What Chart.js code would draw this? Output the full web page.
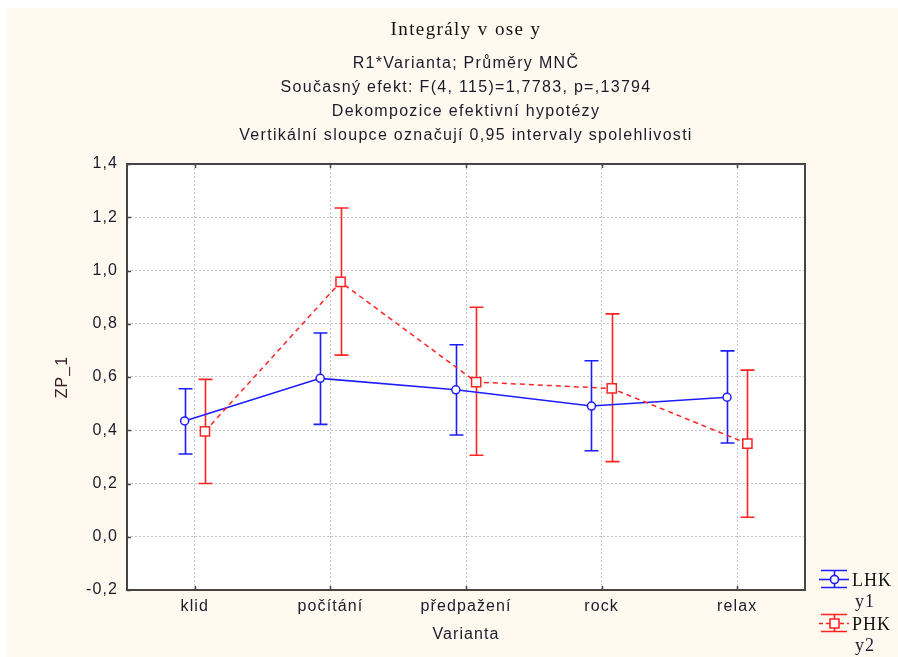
<!DOCTYPE html>
<html>
<head>
<meta charset="utf-8">
<script src="https://cdn.jsdelivr.net/npm/chart.js@4/dist/chart.umd.min.js"></script>
<style>
  html, body { margin: 0; padding: 0; background: #ffffff; }
  #wrap { width: 898px; height: 657px; position: relative; }
</style>
</head>
<body>
<div id="wrap"><canvas id="c" width="898" height="657"></canvas></div>
<script>
// Categories of the experiment (x axis)
const categories = ['klid', 'počítání', 'předpažení', 'rock', 'relax'];

// LHK (y1): least-squares means with 0.95 confidence limits
const lhkMean = [0.435, 0.595, 0.552, 0.491, 0.524];
const lhkLow  = [0.311, 0.422, 0.382, 0.323, 0.352];
const lhkHigh = [0.556, 0.765, 0.721, 0.661, 0.698];

// PHK (y2): least-squares means with 0.95 confidence limits
const phkMean = [0.396, 0.957, 0.581, 0.557, 0.350];
const phkLow  = [0.200, 0.682, 0.306, 0.282, 0.073];
const phkHigh = [0.591, 1.235, 0.862, 0.837, 0.626];

// Y axis tick values
const yTicks = [-0.2, 0.0, 0.2, 0.4, 0.6, 0.8, 1.0, 1.2, 1.4];

// Header lines
const titleText = 'Integrály v ose y';
const subtitleLines = [
  'R1*Varianta; Průměry MNČ',
  'Současný efekt: F(4, 115)=1,7783, p=,13794',
  'Dekompozice efektivní hypotézy',
  'Vertikální sloupce označují 0,95 intervaly spolehlivosti'
];

const BLUE = 'rgb(28, 28, 255)';
const RED = 'rgb(255, 36, 36)';
const TEXT = '#1b1b2b';
const CREAM = '#fff9ef';
const DODGE = 0.075;   // horizontal shift of each series from the category centre (category units)
const SANS = "'Liberation Sans', Arial, sans-serif";
const SERIF = "'Liberation Serif', 'Times New Roman', serif";
const SPACING = '1.1px';

const fmt = v => v.toFixed(1).replace('.', ',');

const series = [
  { mean: lhkMean, low: lhkLow, high: lhkHigh, color: BLUE, shift: -DODGE },
  { mean: phkMean, low: phkLow, high: phkHigh, color: RED, shift: DODGE }
];

// Background, frame, error bars, header and legend
const decor = {
  id: 'decor',
  beforeUpdate(chart) {
    chart.ctx.letterSpacing = SPACING;
  },
  beforeDraw(chart) {
    const { ctx, chartArea: a, width, height } = chart;
    ctx.letterSpacing = SPACING;
    ctx.save();
    ctx.fillStyle = '#ffffff';
    ctx.fillRect(0, 0, width, height);
    ctx.fillStyle = CREAM;
    ctx.fillRect(7, 8, width - 7, height - 8);
    ctx.fillStyle = '#ffffff';
    ctx.fillRect(a.left, a.top, a.right - a.left, a.bottom - a.top);
    ctx.restore();
  },
  beforeDatasetsDraw(chart) {
    const { ctx, scales: { x, y } } = chart;
    ctx.save();
    ctx.lineWidth = 1.6;
    const cap = 7;
    series.forEach(s => {
      ctx.strokeStyle = s.color;
      s.mean.forEach((m, i) => {
        const px = Math.round(x.getPixelForValue(i + s.shift)) + 0.5;
        const yl = y.getPixelForValue(s.low[i]);
        const yh = y.getPixelForValue(s.high[i]);
        ctx.beginPath();
        ctx.moveTo(px, yl); ctx.lineTo(px, yh);
        ctx.moveTo(px - cap, yh); ctx.lineTo(px + cap, yh);
        ctx.moveTo(px - cap, yl); ctx.lineTo(px + cap, yl);
        ctx.stroke();
      });
    });
    ctx.restore();
  },
  afterDraw(chart) {
    const { ctx, chartArea: a, scales: { x, y } } = chart;
    ctx.save();
    // frame
    ctx.strokeStyle = '#454545';
    ctx.lineWidth = 2;
    ctx.strokeRect(a.left, a.top, a.right - a.left, a.bottom - a.top);
    // inner tick marks
    ctx.lineWidth = 1.5;
    ctx.beginPath();
    categories.forEach((c, i) => {
      const px = Math.round(x.getPixelForValue(i)) + 0.5;
      ctx.moveTo(px, a.top); ctx.lineTo(px, a.top + 4);
      ctx.moveTo(px, a.bottom); ctx.lineTo(px, a.bottom - 4);
    });
    yTicks.forEach(v => {
      const py = Math.round(y.getPixelForValue(v)) + 0.5;
      ctx.moveTo(a.left, py); ctx.lineTo(a.left + 4, py);
    });
    ctx.stroke();

    // header
    const cx = (a.left + a.right) / 2;
    ctx.textAlign = 'center';
    ctx.textBaseline = 'middle';
    ctx.fillStyle = '#111111';
    ctx.letterSpacing = '1.4px';
    ctx.font = "19px " + SERIF;
    ctx.fillText(titleText, cx, 30);
    ctx.letterSpacing = '1.3px';
    ctx.font = "16px " + SANS;
    ctx.fillStyle = TEXT;
    const ys = [64, 88, 112, 136];
    subtitleLines.forEach((t, i) => ctx.fillText(t, cx, ys[i]));

    // legend
    drawLegend(ctx);
    ctx.restore();
  }
};

function drawLegend(ctx) {
  const x0 = 819, x1 = 849, xm = 834;
  const items = [
    { name: 'LHK', sub: 'y1', color: BLUE, top: 570, mid: 579, bot: 587, dash: [], marker: 'circle' },
    { name: 'PHK', sub: 'y2', color: RED, top: 614, mid: 623, bot: 631, dash: [4, 3], marker: 'rect' }
  ];
  items.forEach(it => {
    ctx.save();
    ctx.strokeStyle = it.color;
    ctx.lineWidth = 1.6;
    ctx.beginPath();
    ctx.moveTo(x0 + 2, it.top + 0.5); ctx.lineTo(x1 - 2, it.top + 0.5);
    ctx.moveTo(x0 + 2, it.bot + 0.5); ctx.lineTo(x1 - 2, it.bot + 0.5);
    ctx.moveTo(xm + 0.5, it.top); ctx.lineTo(xm + 0.5, it.bot);
    ctx.stroke();
    ctx.setLineDash(it.dash);
    ctx.beginPath();
    ctx.moveTo(x0, it.mid + 0.5); ctx.lineTo(x1, it.mid + 0.5);
    ctx.stroke();
    ctx.setLineDash([]);
    ctx.fillStyle = '#ffffff';
    ctx.beginPath();
    if (it.marker === 'circle') {
      ctx.arc(xm + 0.5, it.mid + 0.5, 4, 0, Math.PI * 2);
    } else {
      ctx.rect(xm - 4, it.mid - 4, 9, 9);
    }
    ctx.fill();
    ctx.stroke();
    ctx.fillStyle = '#111111';
    ctx.letterSpacing = '1px';
    ctx.font = "18px " + SERIF;
    ctx.textAlign = 'left';
    ctx.textBaseline = 'alphabetic';
    ctx.fillText(it.name, 852, it.mid + 7);
    ctx.fillStyle = '#2a1a3a';
    ctx.fillText(it.sub, 855, it.mid + 28);
    ctx.restore();
  });
}

const axisFont = { family: SANS, size: 16 };

new Chart(document.getElementById('c'), {
  type: 'line',
  data: {
    datasets: [
      {
        label: 'LHK',
        data: lhkMean.map((v, i) => ({ x: i - DODGE, y: v })),
        borderColor: BLUE,
        backgroundColor: '#ffffff',
        borderWidth: 1.6,
        pointStyle: 'circle',
        pointRadius: 4,
        pointBorderWidth: 1.5,
        pointBackgroundColor: '#ffffff',
        pointBorderColor: BLUE,
        tension: 0,
        order: 2
      },
      {
        label: 'PHK',
        data: phkMean.map((v, i) => ({ x: i + DODGE, y: v })),
        borderColor: RED,
        backgroundColor: '#ffffff',
        borderWidth: 1.5,
        borderDash: [5, 4],
        pointStyle: 'rect',
        pointRadius: 6.5,
        pointBorderWidth: 1.5,
        pointBackgroundColor: '#ffffff',
        pointBorderColor: RED,
        tension: 0,
        order: 1
      }
    ]
  },
  options: {
    responsive: false,
    animation: false,
    devicePixelRatio: 1,
    layout: { padding: { top: 164, right: 93, left: 0, bottom: 0 } },
    plugins: { legend: { display: false }, title: { display: false }, tooltip: { enabled: false } },
    scales: {
      x: {
        type: 'linear',
        min: -0.5,
        max: 4.5,
        afterBuildTicks: s => { s.ticks = categories.map((c, i) => ({ value: i })); },
        afterFit: s => { s.height = 67; },
        ticks: {
          callback: v => categories[v],
          font: axisFont,
          color: TEXT,
          padding: 7,
          maxRotation: 0,
          autoSkip: false
        },
        grid: { color: '#c4c4c4', lineWidth: 1, drawTicks: false },
        border: { display: false, dash: [2, 2] },
        title: { display: true, text: 'Varianta', font: axisFont, color: TEXT, padding: { top: 4, bottom: 13 } }
      },
      y: {
        min: -0.2,
        max: 1.4,
        afterBuildTicks: s => { s.ticks = yTicks.map(v => ({ value: v })); },
        afterFit: s => { s.width = 127; },
        ticks: { callback: v => fmt(v), font: axisFont, color: TEXT, padding: 9 },
        grid: { color: '#c4c4c4', lineWidth: 1, drawTicks: false },
        border: { display: false, dash: [2, 2] },
        title: { display: true, text: 'ZP_1', font: axisFont, color: '#3a1a2a', padding: { top: 53, bottom: 0 } }
      }
    }
  },
  plugins: [decor]
});
</script>
</body>
</html>
